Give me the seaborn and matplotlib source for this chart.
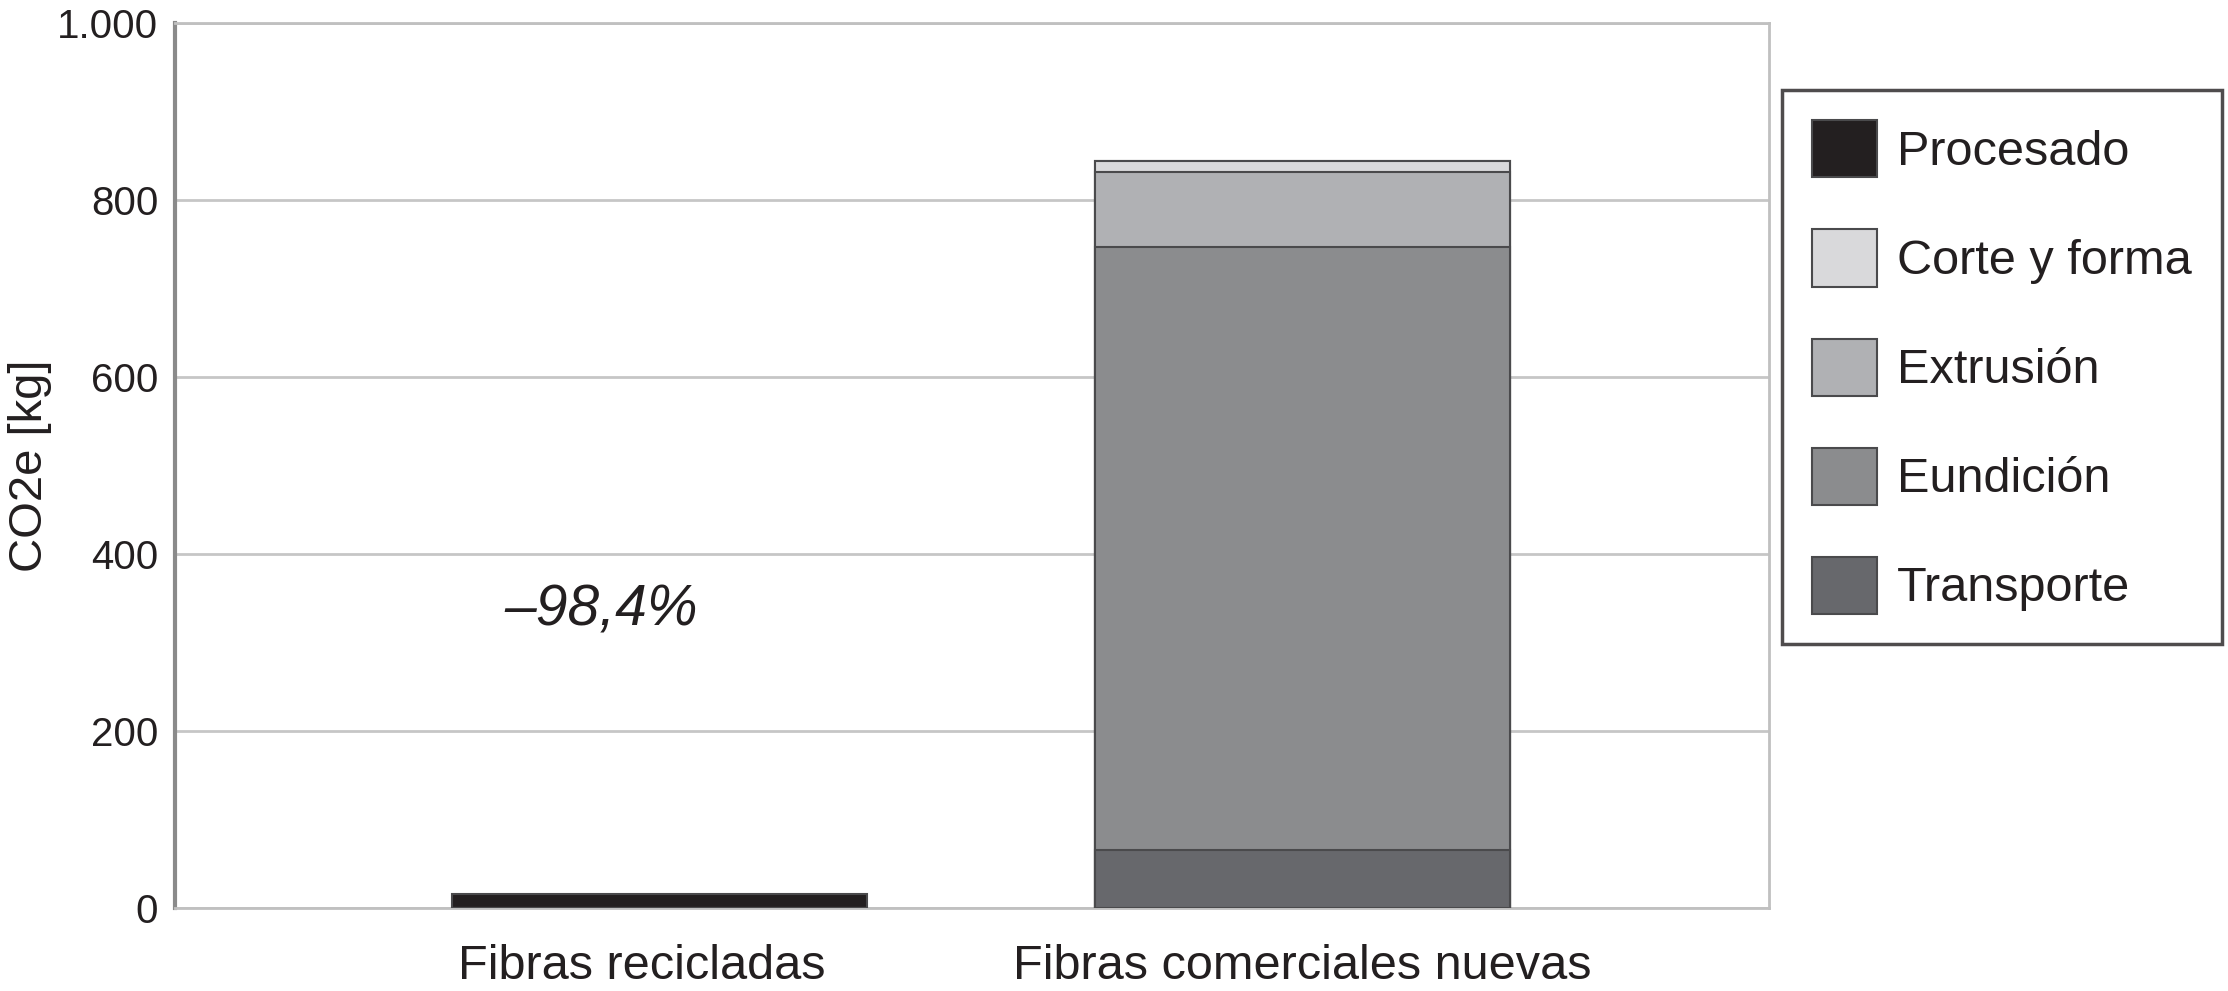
import numpy as np
import pandas as pd
import matplotlib
matplotlib.use('Agg')
import matplotlib.pyplot as plt
import matplotlib.ticker as mticker
import matplotlib.transforms as mtransforms
from matplotlib.patches import Patch
import seaborn as sns

# data (kg CO2e)
categories = ['Fibras recicladas', 'Fibras comerciales nuevas']
components = ['Transporte', 'Eundición', 'Extrusión', 'Corte y forma', 'Procesado']
transporte = [0, 66]
eundicion = [0, 681]
extrusion = [0, 85]
corte = [0, 12]
procesado = [16, 0]
colors = {'Procesado': '#231f20', 'Corte y forma': '#d9d9db', 'Extrusión': '#b0b1b4',
          'Eundición': '#8b8c8e', 'Transporte': '#67686c'}
legend_order = ['Procesado', 'Corte y forma', 'Extrusión', 'Eundición', 'Transporte']
yticks = [0, 200, 400, 600, 800, 1000]
annotation = '–98,4%'

df = pd.DataFrame({'categoria': categories, 'Transporte': transporte, 'Eundición': eundicion,
                   'Extrusión': extrusion, 'Corte y forma': corte, 'Procesado': procesado})

sns.set_style('white')
plt.rcParams['font.family'] = ['Liberation Sans', 'DejaVu Sans']
text_col = '#231f20'

fig = plt.figure(figsize=(22.28, 9.91), dpi=100)
ax = fig.add_axes([0.0785, 0.0838, 0.7155, 0.893])

# stacked bars: draw cumulative totals, tallest first
cum = df[components].cumsum(axis=1)
for comp in reversed(components):
    sns.barplot(x=df['categoria'], y=cum[comp], color=colors[comp], width=0.645,
                edgecolor='#4a4a4c', linewidth=1.5, saturation=1, ax=ax, zorder=3)

ax.set_ylim(0, 1000)
ax.set_xlim(-0.753, 1.726)
ax.set_yticks(yticks)
ax.yaxis.set_major_formatter(mticker.FuncFormatter(lambda v, p: f'{int(v):,}'.replace(',', '.')))
ax.yaxis.grid(True, color='#c6c6c6', linewidth=2)
ax.set_axisbelow(True)
for side in ['top', 'right', 'bottom']:
    ax.spines[side].set_color('#c0c0c0')
    ax.spines[side].set_linewidth(2)
ax.spines['left'].set_color('#8a8a8a')
ax.spines['left'].set_linewidth(3)
ax.tick_params(axis='both', length=0, colors=text_col)
ax.tick_params(axis='y', labelsize=29, pad=12)
ax.tick_params(axis='x', labelsize=35, pad=26)
ax.set_xlabel('')
ax.set_ylabel('CO2e [kg]', fontsize=34, color=text_col)
ax.yaxis.set_label_coords(-0.077, 0.5)

# first category label sits a little left of its bar in the original
lbl = ax.get_xticklabels()[0]
lbl.set_transform(lbl.get_transform() + mtransforms.ScaledTranslation(-0.17, 0, fig.dpi_scale_trans))

ax.text(-0.09, 336, annotation, fontsize=41, style='italic', color=text_col,
        ha='center', va='center')

handles = [Patch(facecolor=colors[c], edgecolor='#4a4a4c', linewidth=1.5) for c in legend_order]
leg = fig.legend(handles, legend_order, loc='upper left', bbox_to_anchor=(0.7998, 0.909),
                 bbox_transform=fig.transFigure, borderaxespad=0, fontsize=35,
                 frameon=True, fancybox=False, edgecolor='#231f20',
                 handlelength=1.34, handleheight=1.43, handletextpad=0.41,
                 labelspacing=1.07, borderpad=0.62)
leg.get_frame().set_linewidth(2.5)
for t in leg.get_texts():
    t.set_color(text_col)

fig.savefig('out.png', dpi=100)
